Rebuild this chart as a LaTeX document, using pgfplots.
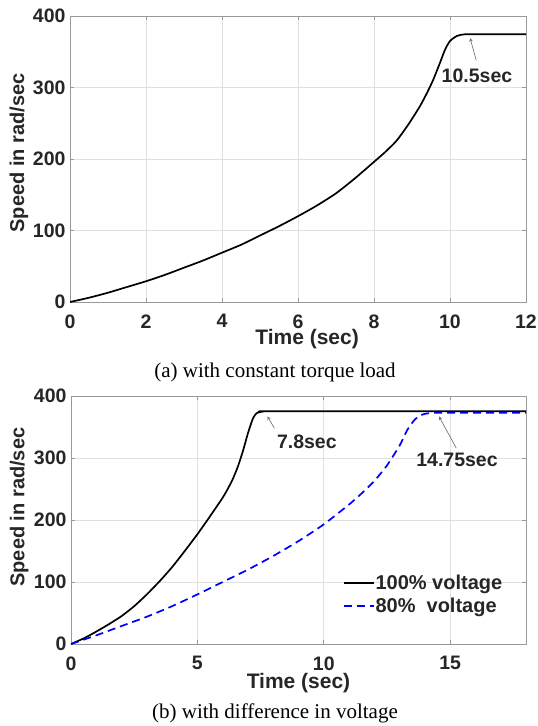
\documentclass[border=0pt]{standalone}
\usepackage{pgfplots}
\pgfplotsset{compat=1.18}
\usepackage{fontspec}
\setmainfont{Liberation Sans}
\newfontfamily\serifcap{Liberation Serif}
\definecolor{axgray}{gray}{0.6}
\definecolor{gridgray}{gray}{0.88}
\pgfplotsset{
  mystyle/.style={
    scale only axis,
    axis line style={axgray, line width=0.9pt},
    every tick/.style={axgray, line width=0.6pt},
    major tick length=4pt,
    tick align=inside,
    grid=major,
    major grid style={gridgray, line width=0.6pt},
    /pgf/number format/assume math mode=true,
    tick label style={font=\fontsize{19.5}{22}\selectfont\bfseries, text=black!85},
    xticklabel style={yshift=-9pt},
    yticklabel style={xshift=-1pt},
    ymin=0, ymax=400, ytick={0,100,200,300,400},
  }
}
\begin{document}
\begin{tikzpicture}[x=1pt,y=1pt]
\path[use as bounding box] (0,0) rectangle (538,-726);
% ---------------- top axis
\begin{axis}[mystyle,
  at={(70pt,-302pt)}, anchor=south west,
  width=456pt, height=286pt,
  xmin=0, xmax=12, xtick={0,2,4,6,8,10,12},
  xlabel={Time (sec)},
  xlabel style={at={(axis description cs:0.52,0)}, anchor=center, yshift=-37pt, font=\fontsize{21}{24}\selectfont\bfseries, text=black!85},
  ylabel={Speed in rad/sec},
  ylabel style={at={(axis description cs:-0.112,0.521)}, anchor=center, rotate=0, font=\fontsize{20}{24}\selectfont\bfseries, text=black!85},
]
\addplot[black, line width=1.7pt, smooth, tension=0.4] coordinates {
(0,0) (0.5,6) (1,13) (1.5,21) (2,29) (2.5,38) (3,48) (3.5,58) (4,69) (4.5,80)
(5,93) (5.5,106) (6,120) (6.5,135) (7,152) (7.5,173) (8,196) (8.3,210) (8.6,226) (8.9,248)
(9.2,273) (9.4,293) (9.56,311) (9.74,335) (9.87,353) (10,365) (10.18,372) (10.4,374.5) (11,374.5) (12,374.5)
};
\draw[-stealth, black!60, line width=0.6pt] (axis cs:10.69,338) -- (axis cs:10.53,369);
\node[font=\fontsize{19.5}{22}\selectfont\bfseries, text=black!85] at (axis cs:10.71,317) {10.5sec};
\end{axis}
\node[font=\fontsize{21}{24}\selectfont\serifcap] at (275pt,-372pt) {(a) with constant torque load};
% ---------------- bottom axis
\begin{axis}[mystyle,
  at={(71pt,-644pt)}, anchor=south west,
  width=455pt, height=248pt,
  xmin=0, xmax=18, xtick={0,5,10,15},
  xlabel={Time (sec)},
  xlabel style={at={(axis description cs:0.5,0)}, anchor=center, yshift=-39pt, font=\fontsize{21}{24}\selectfont\bfseries, text=black!85},
  ylabel={Speed in rad/sec},
  ylabel style={at={(axis description cs:-0.114,0.552)}, anchor=center, rotate=0, font=\fontsize{20}{24}\selectfont\bfseries, text=black!85},
  legend style={draw=none, fill=none, inner sep=0pt, at={(axis description cs:0.597,0.282)}, anchor=north west,
    font=\fontsize{20}{23}\selectfont\bfseries, text=black!85, row sep=5pt,
    nodes={inner sep=1pt}},
  legend cell align=left,
  legend image code/.code={\draw[#1] (0pt,0pt) -- (30pt,0pt);},
]
\addplot[black, line width=1.7pt, smooth, tension=0.35] coordinates {
(0,0) (0.5,9) (1,20) (1.5,32) (2,45) (2.5,61) (3,80) (3.5,101) (4,124) (4.5,150)
(5,177) (5.5,206) (6,236) (6.2,250) (6.4,266) (6.6,286) (6.8,311) (7.0,340) (7.2,364) (7.35,372.5) (7.6,375) (8,375.5) (18,375.5)
};
\addlegendentry{100\% voltage}
\addplot[blue, line width=1.7pt, dash pattern=on 8pt off 5pt, smooth, tension=0.35] coordinates {
(0,0) (1,14) (2,29) (3,44) (4,61) (5,80) (6,100) (7,120) (8,142) (9,166) (10,193)
(11,225) (11.5,243) (12,263) (12.5,288) (13,320) (13.3,345) (13.6,362) (13.9,370) (14.2,372.5) (14.75,373) (18,373)
};
\addlegendentry{80\%\ \ voltage}
\draw[-stealth, black!60, line width=0.6pt] (axis cs:8.05,348) -- (axis cs:7.77,367);
\node[font=\fontsize{19.5}{22}\selectfont\bfseries, text=black!85] at (axis cs:9.33,326) {7.8sec};
\draw[-stealth, black!60, line width=0.6pt] (axis cs:15.24,316) -- (axis cs:14.56,367);
\node[font=\fontsize{19.5}{22}\selectfont\bfseries, text=black!85] at (axis cs:15.27,297) {14.75sec};
\end{axis}
\node[font=\fontsize{21}{24}\selectfont\serifcap] at (275pt,-713pt) {(b) with difference in voltage};
\end{tikzpicture}
\end{document}
